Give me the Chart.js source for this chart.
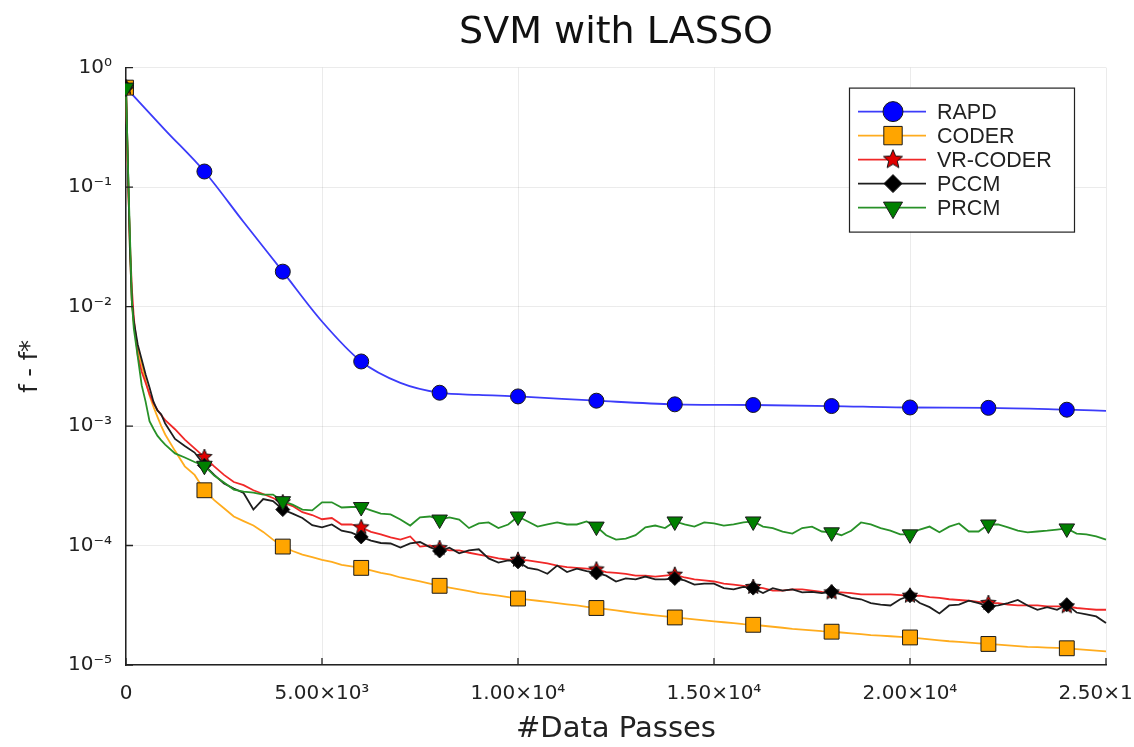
<!DOCTYPE html>
<html>
<head>
<meta charset="utf-8">
<script src="https://cdn.jsdelivr.net/npm/chart.js"></script>
<style>
  html, body { margin: 0; padding: 0; background: #fff; overflow: hidden; }
  #wrap { width: 1180px; height: 747px; }
  canvas { display: block; }
</style>
</head>
<body>
<div id="wrap"><canvas id="chart" width="1180" height="747"></canvas></div>
<script>
// x positions (data passes) shared by the noisy coordinate methods
const passes = [0, 50, 100, 150, 200, 300, 400, 500, 600, 700, 800, 900, 1000,
  1250, 1500, 1750, 2000,
  2250, 2500, 2750, 3000,
  3250, 3500, 3750, 4000,
  4250, 4500, 4750, 5000,
  5250, 5500, 5750, 6000,
  6250, 6500, 6750, 7000,
  7250, 7500, 7750, 8000,
  8250, 8500, 8750, 9000,
  9250, 9500, 9750, 10000,
  10250, 10500, 10750, 11000,
  11250, 11500, 11750, 12000,
  12250, 12500, 12750, 13000,
  13250, 13500, 13750, 14000,
  14250, 14500, 14750, 15000,
  15250, 15500, 15750, 16000,
  16250, 16500, 16750, 17000,
  17250, 17500, 17750, 18000,
  18250, 18500, 18750, 19000,
  19250, 19500, 19750, 20000,
  20250, 20500, 20750, 21000,
  21250, 21500, 21750, 22000,
  22250, 22500, 22750, 23000,
  23250, 23500, 23750, 24000,
  24250, 24500, 24750, 25000];

const rapdPasses = [0, 1000, 2000, 3000, 4000, 5000, 6000, 7000, 8000, 9000,
  10000, 12000, 14000, 16000, 18000, 20000, 22000, 24000, 25000];
const rapd = [0.68, 0.30, 0.135, 0.051, 0.0196, 7.5e-3, 3.47e-3, 2.3e-3, 1.9e-3, 1.82e-3,
  1.77e-3, 1.63e-3, 1.52e-3, 1.5e-3, 1.47e-3, 1.43e-3, 1.42e-3, 1.37e-3, 1.34e-3];

const coder = [0.68, 0.14, 0.03, 0.011, 7.0e-3, 4.5e-3, 3.3e-3, 2.4e-3, 1.8e-3, 1.45e-3, 1.2e-3, 1.0e-3, 8.5e-4,
  6.2e-4, 4.6e-4, 3.9e-4, 2.9e-4,
  2.4e-4, 2.05e-4, 1.75e-4, 1.6e-4,
  1.47e-4, 1.3e-4, 1.12e-4, 9.8e-5,
  9.0e-5, 8.4e-5, 8.0e-5, 7.6e-5,
  7.3e-5, 6.9e-5, 6.7e-5, 6.5e-5,
  6.2e-5, 5.9e-5, 5.7e-5, 5.4e-5,
  5.2e-5, 5.0e-5, 4.8e-5, 4.6e-5,
  4.45e-5, 4.3e-5, 4.15e-5, 4.0e-5,
  3.9e-5, 3.8e-5, 3.7e-5, 3.6e-5,
  3.52e-5, 3.45e-5, 3.37e-5, 3.3e-5,
  3.22e-5, 3.15e-5, 3.07e-5, 3.0e-5,
  2.93e-5, 2.86e-5, 2.79e-5, 2.72e-5,
  2.66e-5, 2.6e-5, 2.55e-5, 2.5e-5,
  2.46e-5, 2.41e-5, 2.36e-5, 2.32e-5,
  2.28e-5, 2.24e-5, 2.2e-5, 2.17e-5,
  2.13e-5, 2.09e-5, 2.05e-5, 2.01e-5,
  1.98e-5, 1.95e-5, 1.92e-5, 1.9e-5,
  1.87e-5, 1.84e-5, 1.81e-5, 1.78e-5,
  1.76e-5, 1.74e-5, 1.72e-5, 1.7e-5,
  1.67e-5, 1.64e-5, 1.61e-5, 1.58e-5,
  1.56e-5, 1.54e-5, 1.52e-5, 1.5e-5,
  1.48e-5, 1.46e-5, 1.44e-5, 1.42e-5,
  1.41e-5, 1.4e-5, 1.39e-5, 1.38e-5,
  1.36e-5, 1.34e-5, 1.32e-5, 1.3e-5];

const vrCoder = [0.68, 0.12, 0.035, 0.014, 8.0e-3, 3.9e-3, 2.85e-3, 2.3e-3, 1.85e-3, 1.55e-3, 1.37e-3, 1.23e-3, 1.12e-3,
  9.4e-4, 7.7e-4, 6.5e-4, 5.5e-4,
  4.6e-4, 3.9e-4, 3.4e-4, 3.2e-4,
  2.9e-4, 2.7e-4, 2.5e-4, 2.3e-4,
  2.14e-4, 1.9e-4, 1.8e-4, 1.66e-4,
  1.7e-4, 1.5e-4, 1.5e-4, 1.42e-4,
  1.3e-4, 1.24e-4, 1.17e-4, 1.12e-4,
  1.19e-4, 9.8e-5, 1.0e-4, 9.5e-5,
  9.1e-5, 9.1e-5, 8.7e-5, 8.4e-5,
  8.1e-5, 7.8e-5, 7.6e-5, 7.6e-5,
  7.5e-5, 7.3e-5, 7.1e-5, 6.8e-5,
  6.6e-5, 6.5e-5, 6.4e-5, 6.3e-5,
  6.0e-5, 5.9e-5, 5.8e-5, 5.6e-5,
  5.6e-5, 5.5e-5, 5.6e-5, 5.7e-5,
  5.4e-5, 5.2e-5, 5.1e-5, 5.0e-5,
  4.8e-5, 4.7e-5, 4.6e-5, 4.5e-5,
  4.4e-5, 4.2e-5, 4.2e-5, 4.3e-5,
  4.3e-5, 4.2e-5, 4.1e-5, 4.05e-5,
  4.05e-5, 4.0e-5, 3.9e-5, 3.9e-5,
  3.9e-5, 3.9e-5, 3.85e-5, 3.8e-5,
  3.8e-5, 3.7e-5, 3.65e-5, 3.55e-5,
  3.5e-5, 3.45e-5, 3.38e-5, 3.3e-5,
  3.3e-5, 3.2e-5, 3.15e-5, 3.15e-5,
  3.15e-5, 3.1e-5, 3.1e-5, 3.1e-5,
  3.0e-5, 2.95e-5, 2.9e-5, 2.9e-5];

const pccm = [0.68, 0.15, 0.03, 0.011, 7.5e-3, 4.8e-3, 3.6e-3, 2.7e-3, 2.1e-3, 1.6e-3, 1.35e-3, 1.25e-3, 1.05e-3,
  7.8e-4, 6.8e-4, 6.0e-4, 4.7e-4,
  3.9e-4, 3.3e-4, 3.0e-4, 2.75e-4,
  2.0e-4, 2.45e-4, 2.35e-4, 2.0e-4,
  1.85e-4, 1.7e-4, 1.48e-4, 1.42e-4,
  1.5e-4, 1.33e-4, 1.28e-4, 1.18e-4,
  1.1e-4, 1.05e-4, 1.04e-4, 9.6e-5,
  1.04e-4, 1.07e-4, 9.7e-5, 9.0e-5,
  9.6e-5, 8.6e-5, 9.1e-5, 9.3e-5,
  7.8e-5, 7.2e-5, 7.5e-5, 7.3e-5,
  6.5e-5, 6.3e-5, 5.8e-5, 6.8e-5,
  6.0e-5, 6.4e-5, 6.1e-5, 5.9e-5,
  5.6e-5, 5.0e-5, 5.3e-5, 5.2e-5,
  5.5e-5, 5.2e-5, 5.2e-5, 5.3e-5,
  5.1e-5, 4.7e-5, 4.8e-5, 4.8e-5,
  4.4e-5, 4.3e-5, 4.5e-5, 4.4e-5,
  4.0e-5, 4.4e-5, 4.2e-5, 4.3e-5,
  4.05e-5, 4.1e-5, 4.0e-5, 4.1e-5,
  3.9e-5, 3.65e-5, 3.55e-5, 3.3e-5,
  3.2e-5, 3.15e-5, 3.55e-5, 3.8e-5,
  3.3e-5, 3.05e-5, 2.7e-5, 3.15e-5,
  3.2e-5, 3.45e-5, 3.3e-5, 3.1e-5,
  3.15e-5, 3.3e-5, 3.5e-5, 3.15e-5,
  2.9e-5, 3.05e-5, 2.9e-5, 3.2e-5,
  2.75e-5, 2.65e-5, 2.55e-5, 2.25e-5];

const prcm = [0.68, 0.15, 0.04, 0.011, 6.5e-3, 3.8e-3, 2.2e-3, 1.6e-3, 1.1e-3, 9.5e-4, 8.3e-4, 7.6e-4, 7.0e-4,
  5.9e-4, 5.45e-4, 5.0e-4, 4.65e-4,
  3.85e-4, 3.37e-4, 2.94e-4, 2.82e-4,
  2.77e-4, 2.67e-4, 2.67e-4, 2.35e-4,
  2.2e-4, 2.0e-4, 1.97e-4, 2.3e-4,
  2.3e-4, 2.08e-4, 2.1e-4, 2.1e-4,
  1.97e-4, 1.85e-4, 1.82e-4, 1.65e-4,
  1.47e-4, 1.72e-4, 1.75e-4, 1.65e-4,
  1.72e-4, 1.65e-4, 1.4e-4, 1.53e-4,
  1.56e-4, 1.4e-4, 1.5e-4, 1.75e-4,
  1.59e-4, 1.44e-4, 1.5e-4, 1.56e-4,
  1.5e-4, 1.5e-4, 1.59e-4, 1.44e-4,
  1.22e-4, 1.12e-4, 1.14e-4, 1.22e-4,
  1.42e-4, 1.47e-4, 1.4e-4, 1.59e-4,
  1.5e-4, 1.44e-4, 1.56e-4, 1.53e-4,
  1.47e-4, 1.5e-4, 1.56e-4, 1.59e-4,
  1.44e-4, 1.4e-4, 1.31e-4, 1.26e-4,
  1.4e-4, 1.44e-4, 1.31e-4, 1.29e-4,
  1.22e-4, 1.33e-4, 1.56e-4, 1.5e-4,
  1.4e-4, 1.33e-4, 1.24e-4, 1.24e-4,
  1.36e-4, 1.44e-4, 1.29e-4, 1.44e-4,
  1.53e-4, 1.31e-4, 1.31e-4, 1.5e-4,
  1.5e-4, 1.42e-4, 1.33e-4, 1.29e-4,
  1.31e-4, 1.33e-4, 1.36e-4, 1.39e-4,
  1.26e-4, 1.24e-4, 1.19e-4, 1.12e-4];

const xTicks = [0, 5000, 10000, 15000, 20000, 25000];
const xTickLabels = ['0', '5.00×10³', '1.00×10⁴', '1.50×10⁴', '2.00×10⁴', '2.50×10⁴'];
const yTicks = [1e-5, 1e-4, 1e-3, 1e-2, 1e-1, 1];
const yTickLabels = ['10⁻⁵', '10⁻⁴', '10⁻³', '10⁻²', '10⁻¹', '10⁰'];

const MARK_EVERY = 2000;
const tickFont = { family: "'DejaVu Sans', sans-serif", size: 20 };

function makeStar(r, fill) {
  const size = Math.ceil(r * 2 + 4);
  const c = document.createElement('canvas');
  c.width = size;
  c.height = size;
  const g = c.getContext('2d');
  g.beginPath();
  for (let i = 0; i < 10; i++) {
    const rr = i % 2 ? r * 0.45 : r;
    const a = -Math.PI / 2 + i * Math.PI / 5;
    const px = size / 2 + rr * Math.cos(a);
    const py = size / 2 + rr * Math.sin(a);
    if (i === 0) g.moveTo(px, py); else g.lineTo(px, py);
  }
  g.closePath();
  g.fillStyle = fill;
  g.fill();
  g.lineWidth = 1;
  g.strokeStyle = '#111';
  g.stroke();
  return c;
}

const toPoints = (xs, ys) => xs.map((x, i) => ({ x: x, y: ys[i] }));
const markerAt = r => c => (c.raw && c.raw.x % MARK_EVERY === 0 ? r : 0);

const series = [
  { label: 'RAPD', data: toPoints(rapdPasses, rapd), line: 'rgb(60,60,250)', fill: '#0000ff',
    style: 'circle', rot: 0, r: 7.5, legendR: 10, smooth: true },
  { label: 'CODER', data: toPoints(passes, coder), line: 'rgb(255,172,30)', fill: '#ffa500',
    style: 'rect', rot: 0, r: 10.5, legendR: 13 },
  { label: 'VR-CODER', data: toPoints(passes, vrCoder), line: 'rgb(240,40,40)', fill: '#e00000',
    style: makeStar(8, '#e00000'), rot: 0, r: 8, legendR: 10, legendStyle: makeStar(10, '#e00000') },
  { label: 'PCCM', data: toPoints(passes, pccm), line: 'rgb(30,30,30)', fill: '#000000',
    style: 'rectRot', rot: 0, r: 7, legendR: 9 },
  { label: 'PRCM', data: toPoints(passes, prcm), line: 'rgb(40,145,40)', fill: '#008000',
    style: 'triangle', rot: 180, r: 9, legendR: 11 }
];

const datasets = series.map((s, i) => ({
  label: s.label,
  data: s.data,
  borderColor: s.line,
  borderWidth: 1.8,
  backgroundColor: s.fill,
  pointBackgroundColor: s.fill,
  pointBorderColor: '#1a1a1a',
  pointBorderWidth: 1,
  pointStyle: s.style,
  pointRotation: s.rot,
  pointRadius: markerAt(s.r),
  pointHoverRadius: 0,
  cubicInterpolationMode: s.smooth ? 'monotone' : 'default',
  tension: 0,
  fill: false,
  clip: 1,
  order: series.length - i
}));

// inward tick marks on the left and bottom axes, like the original plot
const innerTicks = {
  id: 'innerTicks',
  afterDraw(chart) {
    const { ctx, chartArea: a, scales: { x, y } } = chart;
    ctx.save();
    ctx.strokeStyle = '#222';
    ctx.lineWidth = 1.3;
    ctx.beginPath();
    yTicks.forEach(v => {
      const py = y.getPixelForValue(v);
      ctx.moveTo(a.left, py);
      ctx.lineTo(a.left + 7, py);
    });
    xTicks.forEach(v => {
      const px = x.getPixelForValue(v);
      ctx.moveTo(px, a.bottom);
      ctx.lineTo(px, a.bottom - 7);
    });
    ctx.stroke();
    ctx.restore();
  }
};

// legend with a line sample and the marker through it
const lineLegend = {
  id: 'lineLegend',
  afterDraw(chart) {
    const { ctx, chartArea: a } = chart;
    const bx = a.right - 257, by = a.top + 20, bw = 225, bh = 144;
    ctx.save();
    ctx.fillStyle = '#fff';
    ctx.fillRect(bx, by, bw, bh);
    ctx.strokeStyle = '#222';
    ctx.lineWidth = 1.2;
    ctx.strokeRect(bx + 0.5, by + 0.5, bw, bh);
    ctx.font = "21.5px 'Liberation Sans', Arial, sans-serif";
    ctx.textBaseline = 'middle';
    series.forEach((s, i) => {
      const ry = by + 24 + i * 24;
      ctx.strokeStyle = s.line;
      ctx.lineWidth = 1.8;
      ctx.beginPath();
      ctx.moveTo(bx + 9, ry);
      ctx.lineTo(bx + 77, ry);
      ctx.stroke();
      ctx.fillStyle = s.fill;
      ctx.strokeStyle = '#1a1a1a';
      ctx.lineWidth = 1;
      Chart.helpers.drawPoint(ctx, {
        pointStyle: s.legendStyle || s.style,
        radius: s.legendR,
        rotation: s.rot,
        borderWidth: 1
      }, bx + 44, ry);
      ctx.fillStyle = '#222';
      ctx.fillText(s.label, bx + 88, ry + 1);
    });
    ctx.restore();
  }
};

new Chart(document.getElementById('chart').getContext('2d'), {
  type: 'line',
  data: { datasets: datasets },
  plugins: [innerTicks, lineLegend],
  options: {
    responsive: false,
    animation: false,
    events: [],
    layout: { padding: { top: 2, right: 74, bottom: 0, left: 0 } },
    plugins: {
      legend: { display: false },
      tooltip: { enabled: false },
      title: {
        display: true,
        text: 'SVM with LASSO',
        fullSize: false,
        color: '#111',
        font: { family: "'DejaVu Sans', sans-serif", size: 38, weight: 'normal' },
        padding: { top: 8, bottom: 12 }
      }
    },
    scales: {
      x: {
        type: 'linear',
        min: 0,
        max: 25000,
        afterBuildTicks: s => { s.ticks = xTicks.map(v => ({ value: v })); },
        afterFit: s => { s.height = 82; },
        ticks: {
          callback: (v, i) => xTickLabels[i],
          color: '#222',
          font: tickFont,
          padding: 17,
          maxRotation: 0,
          autoSkip: false
        },
        grid: { color: 'rgba(0,0,0,0.08)', drawTicks: false },
        border: { color: '#222', width: 1.5 },
        title: {
          display: true,
          text: '#Data Passes',
          color: '#222',
          font: { family: "'DejaVu Sans', sans-serif", size: 29 },
          padding: { top: 0, bottom: 0 }
        }
      },
      y: {
        type: 'logarithmic',
        min: 1e-5,
        max: 1,
        afterBuildTicks: s => { s.ticks = yTicks.map(v => ({ value: v })); },
        afterFit: s => { s.width = 126; },
        ticks: {
          callback: (v, i) => yTickLabels[i],
          color: '#222',
          font: tickFont,
          padding: 14,
          autoSkip: false
        },
        grid: { color: 'rgba(0,0,0,0.08)', drawTicks: false },
        border: { color: '#222', width: 1.5 },
        title: {
          display: true,
          text: 'f - f*',
          color: '#222',
          font: { family: "'DejaVu Sans', sans-serif", size: 24 },
          padding: { top: 16, bottom: 0 }
        }
      }
    }
  }
});
</script>
</body>
</html>
